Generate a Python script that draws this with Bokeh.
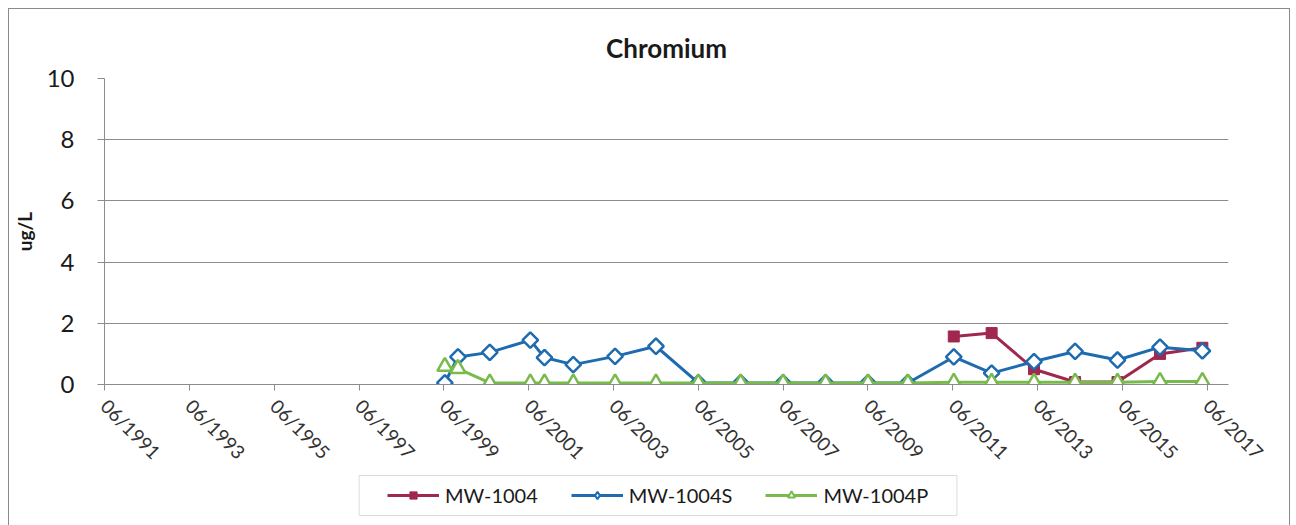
import pandas as pd
from math import pi
from bokeh.plotting import figure
from bokeh.layouts import column
from bokeh.models import (ColumnDataSource, FixedTicker, DatetimeTickFormatter,
                          Range1d, Legend, LegendItem, BoxAnnotation)
from bokeh.embed import file_html
from bokeh.resources import INLINE

# ---------------- data ----------------
dates_s = ["1999-06-10", "1999-10-01", "2000-07-01", "2001-06-15", "2001-10-15", "2002-06-20",
           "2003-06-15", "2004-06-01", "2005-06-01", "2006-06-01", "2007-06-01", "2008-06-01",
           "2009-06-01", "2010-05-10", "2011-06-10", "2012-05-01", "2013-05-01", "2014-04-20",
           "2015-04-20", "2016-04-20", "2017-04-20"]
mw1004s = [0.05, 0.90, 1.05, 1.45, 0.88, 0.65, 0.92, 1.25, 0.05, 0.05, 0.05, 0.05,
           0.05, 0.05, 0.90, 0.37, 0.75, 1.08, 0.80, 1.22, 1.10]

dates_p = dates_s
mw1004p = [0.59, 0.52, 0.05, 0.05, 0.05, 0.05, 0.05, 0.05, 0.05, 0.05, 0.05, 0.05,
           0.05, 0.05, 0.07, 0.07, 0.07, 0.07, 0.07, 0.10, 0.10]

dates_r = ["2011-06-10", "2012-05-01", "2013-05-01", "2014-04-20", "2015-04-20",
           "2016-04-20", "2017-04-20"]
mw1004 = [1.57, 1.68, 0.50, 0.08, 0.08, 1.00, 1.20]

series_names = ["MW-1004", "MW-1004S", "MW-1004P"]
tick_labels = ["06/1991", "06/1993", "06/1995", "06/1997", "06/1999", "06/2001", "06/2003",
               "06/2005", "06/2007", "06/2009", "06/2011", "06/2013", "06/2015", "06/2017"]
y_ticks = [0, 2, 4, 6, 8, 10]

RED = "#A0284E"
BLUE = "#1F6BAF"
GREEN = "#79BA4C"
GRID = "#8c8c8c"
FONT = "Lato"

src_s = ColumnDataSource(dict(x=pd.to_datetime(dates_s), y=mw1004s))
src_p = ColumnDataSource(dict(x=pd.to_datetime(dates_p), y=mw1004p))
src_r = ColumnDataSource(dict(x=pd.to_datetime(dates_r), y=mw1004))

tick_ms = [pd.to_datetime(t, format="%m/%Y").value // 10**6 for t in tick_labels]

x_start = pd.Timestamp("1991-06-01")
x_end = pd.Timestamp("2017-12-01")

W = 1280
H_MAIN = 465
H_LEG = 52
PAGE_X0, PAGE_X1 = 97, 1227          # frame extent on the page (px)
PAGE_Y0, PAGE_Y1 = 8 + H_MAIN, 8 + H_MAIN + H_LEG

p = figure(width=W, height=H_MAIN, x_axis_type="datetime",
           output_backend="svg", toolbar_location=None,
           x_range=Range1d(x_start, x_end), y_range=Range1d(0, 10),
           min_border_left=89, min_border_right=61, min_border_top=69, min_border_bottom=90)

p.title.text = "Chromium"
p.title.align = "center"
p.title.text_font = FONT
p.title.text_font_size = "26px"
p.title.text_font_style = "bold"
p.title.text_color = "#1a1a1a"
p.title.standoff = 30

p.outline_line_color = None
p.background_fill_color = "white"
p.border_fill_color = "white"

p.xgrid.grid_line_color = None
p.ygrid.grid_line_color = GRID
p.ygrid.grid_line_width = 1

p.xaxis.ticker = FixedTicker(ticks=tick_ms)
fmt = "%m/%Y"
p.xaxis.formatter = DatetimeTickFormatter(milliseconds=fmt, seconds=fmt, minsec=fmt, minutes=fmt,
                                          hourmin=fmt, hours=fmt, days=fmt, months=fmt, years=fmt)
p.xaxis.major_label_orientation = -pi / 4
p.xaxis.major_label_standoff = 12
p.xaxis.major_label_text_font = FONT
p.xaxis.major_label_text_font_size = "19px"
p.xaxis.major_label_text_color = "#333333"
p.xaxis.axis_line_color = GRID
p.xaxis.major_tick_line_color = GRID
p.xaxis.major_tick_out = 6
p.xaxis.major_tick_in = 0
p.xaxis.minor_tick_line_color = None

p.yaxis.ticker = FixedTicker(ticks=y_ticks)
p.yaxis.axis_label = "ug/L"
p.yaxis.axis_label_standoff = 8
p.yaxis.axis_label_text_font = FONT
p.yaxis.axis_label_text_font_size = "19px"
p.yaxis.axis_label_text_font_style = "bold"
p.yaxis.axis_label_text_color = "#1a1a1a"
p.yaxis.major_label_standoff = 23
p.yaxis.major_label_text_font = FONT
p.yaxis.major_label_text_font_size = "24px"
p.yaxis.major_label_text_color = "#1a1a1a"
p.yaxis.axis_line_color = GRID
p.yaxis.major_tick_line_color = GRID
p.yaxis.major_tick_out = 7
p.yaxis.major_tick_in = 0
p.yaxis.minor_tick_line_color = None

line_kw = dict(line_width=3)
red_m = dict(marker="square", size=11, fill_color=RED, line_color=RED)
blue_m = dict(marker="square", angle=pi / 4, size=11, fill_color="white",
              line_color=BLUE, line_width=2.5)
green_m = dict(marker="triangle", size=15, fill_color="white", line_color=GREEN, line_width=2.5)

p.line("x", "y", source=src_r, line_color=RED, **line_kw)
p.scatter("x", "y", source=src_r, **red_m)
p.line("x", "y", source=src_s, line_color=BLUE, **line_kw)
p.scatter("x", "y", source=src_s, **blue_m)
p.line("x", "y", source=src_p, line_color=GREEN, **line_kw)
p.scatter("x", "y", source=src_p, **green_m)

# ---------------- legend strip (frame aligned with main plot; data units = page px) ----
q = figure(width=W, height=H_LEG, output_backend="svg", toolbar_location=None,
           x_range=Range1d(PAGE_X0, PAGE_X1), y_range=Range1d(PAGE_Y1, PAGE_Y0),
           min_border=0, min_border_left=0, min_border_right=0,
           min_border_top=0, min_border_bottom=0)
q.axis.visible = False
q.grid.visible = False
q.outline_line_color = None
q.background_fill_color = "white"
q.border_fill_color = "white"

q.add_layout(BoxAnnotation(left=353, right=954, top=474, bottom=514,
                           fill_color="white", fill_alpha=1.0,
                           line_color=GRID, line_width=1))

# off-screen proxy glyphs that only serve the legend
off = dict(x=[0], y=[0])
l1 = q.line(line_color=RED, **off, **line_kw)
m1 = q.scatter(**off, **dict(red_m, size=11))
l2 = q.line(line_color=BLUE, **off, **line_kw)
m2 = q.scatter(**off, marker="diamond", size=14, fill_color="white",
               line_color=BLUE, line_width=2)
l3 = q.line(line_color=GREEN, **off, **line_kw)
m3 = q.scatter(**off, **dict(green_m, size=14, line_width=2))

legend = Legend(items=[LegendItem(label=series_names[0], renderers=[l1, m1]),
                       LegendItem(label=series_names[1], renderers=[l2, m2]),
                       LegendItem(label=series_names[2], renderers=[l3, m3])],
                orientation="horizontal", location=(283, 19))
legend.label_text_font = FONT
legend.label_text_font_size = "20px"
legend.label_text_color = "#1a1a1a"
legend.border_line_color = None
legend.background_fill_alpha = 0
legend.glyph_width = 52
legend.glyph_height = 18
legend.label_standoff = 6
legend.spacing = 33
legend.padding = 0
legend.margin = 0
q.add_layout(legend, "center")

layout = column(p, q, spacing=0)
layout.styles = {"border": "1px solid #8a8a8a", "margin": "8px"}

open("out.html", "w").write(file_html(layout, INLINE))
